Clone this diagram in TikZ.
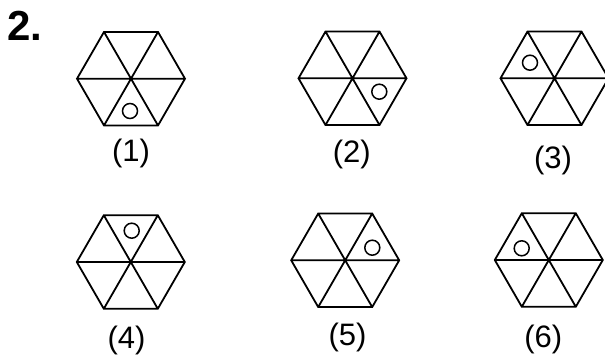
\documentclass[tikz,border=0pt]{standalone}
\usepackage{fontspec}
\setmainfont{Liberation Sans}
\begin{document}
\begin{tikzpicture}[x=1pt,y=-1pt,
  hexline/.style={line width=1.8pt, line join=miter},
  ringline/.style={line width=1.5pt},
  lbl/.style={font=\fontsize{31}{33}\selectfont, inner sep=0pt},
  hexa/.pic={\draw[hexline] (0:54) -- (60:54) -- (120:54) -- (180:54) -- (240:54) -- (300:54) -- cycle
     (0:54) -- (180:54) (60:54) -- (240:54) (120:54) -- (300:54);}]
\useasboundingbox (0,0) rectangle (605,358);
\node[font=\fontsize{42}{44}\selectfont\bfseries, inner sep=0pt, anchor=base west] (num) at (7,40.3) {2.};
% row 1
\pic at (131,78.7) {hexa};
\draw[ringline] (130,111) circle (7.5);
\node[lbl] (l1) at (131,153.7) {(1)};
\pic at (352.5,78.3) {hexa};
\draw[ringline] (379.3,91.7) circle (7.5);
\node[lbl] (l2) at (351.7,154.5) {(2)};
\pic at (554.5,78.3) {hexa};
\draw[ringline] (530,62.7) circle (7.5);
\node[lbl] (l3) at (553,160) {(3)};
% row 2
\pic at (130.8,262) {hexa};
\draw[ringline] (131.7,230.7) circle (7.5);
\node[lbl] (l4) at (126.5,340) {(4)};
\pic at (345.2,260.3) {hexa};
\draw[ringline] (372.3,247.7) circle (7.5);
\node[lbl] (l5) at (347.5,337.5) {(5)};
\pic at (548.8,260) {hexa};
\draw[ringline] (521.7,248.3) circle (7.5);
\node[lbl] (l6) at (543.3,339) {(6)};
\end{tikzpicture}
\end{document}
